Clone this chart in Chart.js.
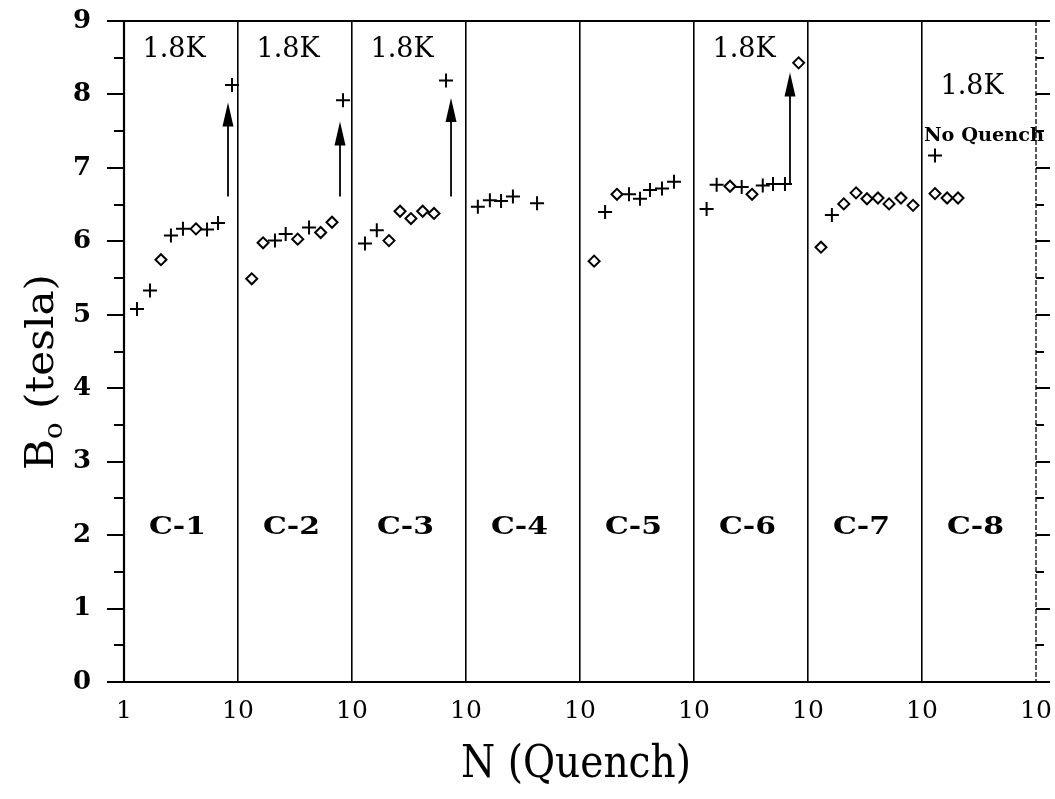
<!DOCTYPE html>
<html><head><meta charset="utf-8">
<script src="https://cdn.jsdelivr.net/npm/chart.js@4.4.1/dist/chart.umd.min.js"></script>
<style>html,body{margin:0;padding:0;background:#fff;} canvas{display:block;}</style>
</head><body><canvas id="c" width="1055" height="799"></canvas>
<script>
// ---- data ----
const panelNames = ['C-1','C-2','C-3','C-4','C-5','C-6','C-7','C-8'];
const xTickLabels = ['1','10','10','10','10','10','10','10','10'];
const yTickValues = [0,1,2,3,4,5,6,7,8,9];

// '+' markers: panel index, quench number N, field B (tesla)
const crossPanel = [0,0,0,0,0,0,0, 1,1,1,1, 2,2,2, 3,3,3,3,3, 4,4,4,4,4,4, 5,5,5,5,5,5, 6, 7];
const crossN     = [1.30,1.69,2.58,3.29,5.35,6.68,8.86, 2.11,2.62,4.20,8.34, 1.30,1.65,6.68, 1.27,1.62,2.03,2.58,4.20, 1.66,2.69,3.36,4.11,5.24,6.68, 1.29,1.58,2.62,4.01,4.93,6.28, 1.62, 1.30];
const crossB     = [5.08,5.33,6.08,6.17,6.16,6.25,8.13, 6.01,6.10,6.19,7.92, 5.97,6.15,8.19, 6.47,6.56,6.55,6.61,6.52, 6.40,6.64,6.58,6.70,6.72,6.81, 6.44,6.77,6.74,6.76,6.78,6.78, 6.36, 7.17];

// diamond markers
const diamondPanel = [0,0, 1,1,1,1,1, 2,2,2,2,2, 4,4, 5,5,5, 6,6,6,6,6,6,6,6, 7,7,7];
const diamondN     = [2.11,4.28, 1.32,1.66,3.34,5.31,6.68, 2.11,2.64,3.29,4.17,5.24, 1.33,2.11, 2.07,3.23,8.28, 1.30,2.06,2.64,3.29,4.11,5.14,6.54,8.34, 1.30,1.66,2.07];
const diamondB     = [5.75,6.17, 5.49,5.98,6.03,6.12,6.26, 6.01,6.41,6.31,6.41,6.38, 5.73,6.64, 6.75,6.64,8.43, 5.92,6.51,6.66,6.58,6.59,6.51,6.59,6.49, 6.65,6.59,6.59];

// arrows: panel, N, start B, tip B
const arrowPanel = [0,1,2,5];
const arrowN     = [8.17,7.85,7.39,6.95];
const arrowFrom  = [6.61,6.61,6.61,6.78];
const arrowTo    = [7.89,7.63,7.95,8.30];

// temperature labels
const tempPanels = [0,1,2,5,7];
const tempB      = [8.61,8.61,8.61,8.61,8.10];
const tempText   = '1.8K';
const noQuenchText = 'No Quench';
const noQuenchB = 7.43;
const panelLabelB = 2.1;

const toX = (p, n) => p + Math.log10(n);
const crossData = crossN.map((n,i)=>({x: toX(crossPanel[i], n), y: crossB[i]}));
const diamondData = diamondN.map((n,i)=>({x: toX(diamondPanel[i], n), y: diamondB[i]}));

const SERIF = '"DejaVu Serif", serif';

const decor = {
  id: 'decor',
  beforeDatasetsDraw(chart) {
    const {ctx, chartArea: a, scales: {x, y}} = chart;
    ctx.save();
    ctx.strokeStyle = '#000';
    ctx.lineWidth = 2.2;
    ctx.beginPath();
    ctx.moveTo(a.left, a.bottom); ctx.lineTo(a.left, a.top); ctx.lineTo(a.right, a.top);
    ctx.moveTo(a.left, a.bottom); ctx.lineTo(a.right, a.bottom);
    ctx.stroke();
    ctx.lineWidth = 1.3;
    ctx.setLineDash([5, 2]);
    ctx.beginPath(); ctx.moveTo(a.right, a.top); ctx.lineTo(a.right, a.bottom); ctx.stroke();
    ctx.setLineDash([]);
    ctx.lineWidth = 2;
    for (let v = 0; v <= 9.001; v += 0.5) {
      const py = Math.round(y.getPixelForValue(v));
      const major = Math.abs(v - Math.round(v)) < 1e-6;
      ctx.beginPath();
      ctx.moveTo(a.left - (major ? 17 : 10), py); ctx.lineTo(a.left, py);
      ctx.moveTo(a.right, py); ctx.lineTo(a.right + (major ? 14 : 8), py);
      ctx.stroke();
    }
    ctx.restore();
  },
  afterDatasetsDraw(chart) {
    const {ctx, chartArea: a, scales: {x, y}} = chart;
    ctx.save();
    ctx.fillStyle = '#000'; ctx.strokeStyle = '#000';
    arrowPanel.forEach((p, i) => {
      const px = x.getPixelForValue(toX(p, arrowN[i]));
      const y0 = y.getPixelForValue(arrowFrom[i]);
      const y1 = y.getPixelForValue(arrowTo[i]);
      const headL = 24, headW = 5.5;
      ctx.lineWidth = 1.8;
      ctx.beginPath(); ctx.moveTo(px, y0); ctx.lineTo(px, y1 + headL - 2); ctx.stroke();
      ctx.beginPath();
      ctx.moveTo(px, y1); ctx.lineTo(px - headW, y1 + headL); ctx.lineTo(px + headW, y1 + headL); ctx.closePath();
      ctx.fill();
    });
    ctx.textAlign = 'center'; ctx.textBaseline = 'middle';
    ctx.font = '27px ' + SERIF;
    tempPanels.forEach((p, i) => {
      ctx.fillText(tempText, x.getPixelForValue(p + 0.44), y.getPixelForValue(tempB[i]));
    });
    ctx.font = 'bold 18px ' + SERIF;
    ctx.save();
    const nqx = x.getPixelForValue(7) + 2, nqy = y.getPixelForValue(noQuenchB);
    const w = ctx.measureText(noQuenchText).width;
    ctx.translate(nqx, nqy); ctx.scale(120 / w, 1);
    ctx.textAlign = 'left';
    ctx.fillText(noQuenchText, 0, 0);
    ctx.restore();
    ctx.font = 'bold 25px ' + SERIF;
    panelNames.forEach((n, i) => {
      ctx.save();
      const tw = ctx.measureText(n).width;
      ctx.translate(x.getPixelForValue(i + 0.47), y.getPixelForValue(panelLabelB));
      ctx.scale(57 / tw, 1);
      ctx.fillText(n, 0, 0);
      ctx.restore();
    });
    ctx.save();
    ctx.font = '44px ' + SERIF;
    const xt = 'N (Quench)';
    const xw = ctx.measureText(xt).width;
    ctx.translate((a.left + a.right) / 2 - 4, 766);
    ctx.scale(230 / xw, 1);
    ctx.textAlign = 'center'; ctx.textBaseline = 'middle';
    ctx.fillText(xt, 0, 0);
    ctx.restore();
    ctx.save();
    ctx.translate(40, 372);
    ctx.rotate(-Math.PI / 2);
    const bigF = '40px ' + SERIF, smallF = '26px ' + SERIF;
    ctx.font = bigF; const wB = ctx.measureText('B').width; const wRest = ctx.measureText(' (tesla)').width;
    ctx.font = smallF; const wO = ctx.measureText('o').width;
    const total = wB + wO + wRest;
    ctx.scale(196 / total, 1);
    let cx = -total / 2;
    ctx.textAlign = 'left'; ctx.textBaseline = 'alphabetic';
    const base = 13;
    ctx.font = bigF; ctx.fillText('B', cx, base); cx += wB;
    ctx.font = smallF; ctx.fillText('o', cx, base + 9); cx += wO;
    ctx.font = bigF; ctx.fillText(' (tesla)', cx, base);
    ctx.restore();
    ctx.restore();
  }
};

new Chart(document.getElementById('c'), {
  type: 'scatter',
  data: {
    datasets: [
      { label: '+', data: crossData, pointStyle: 'cross', pointRadius: 7, pointHoverRadius: 7,
        borderColor: '#000', backgroundColor: '#000', pointBorderWidth: 2, showLine: false },
      { label: 'diamond', data: diamondData, pointStyle: 'rectRot', pointRadius: 5.5, pointHoverRadius: 5.5,
        borderColor: '#000', backgroundColor: '#fff', pointBorderWidth: 2, showLine: false }
    ]
  },
  options: {
    responsive: false, animation: false, devicePixelRatio: 1,
    layout: { padding: { top: 21, right: 19, bottom: 0, left: 0 } },
    plugins: { legend: { display: false }, tooltip: { enabled: false } },
    scales: {
      x: {
        type: 'linear', min: 0, max: 8,
        afterFit: s => { s.height = 117; s.paddingLeft = 0; s.paddingRight = 0; },
        afterBuildTicks: s => { s.ticks = xTickLabels.map((_, i) => ({ value: i })); },
        ticks: { callback: (v, i) => xTickLabels[i], color: '#000', font: { family: SERIF, size: 25 }, padding: 14, maxRotation: 0, autoSkip: false },
        grid: { drawTicks: false, lineWidth: 1.6,
          color: c => (c.tick && c.tick.value > 0 && c.tick.value < 8) ? '#000' : 'rgba(0,0,0,0)' },
        border: { display: false }
      },
      y: {
        type: 'linear', min: 0, max: 9,
        afterFit: s => { s.width = 124; s.paddingTop = 0; s.paddingBottom = 0; },
        afterBuildTicks: s => { s.ticks = yTickValues.map(v => ({ value: v })); },
        ticks: { color: '#000', font: { family: SERIF, size: 26, weight: 'bold' }, padding: 33 },
        grid: { display: false, drawTicks: false },
        border: { display: false }
      }
    }
  },
  plugins: [decor]
});
</script></body></html>
